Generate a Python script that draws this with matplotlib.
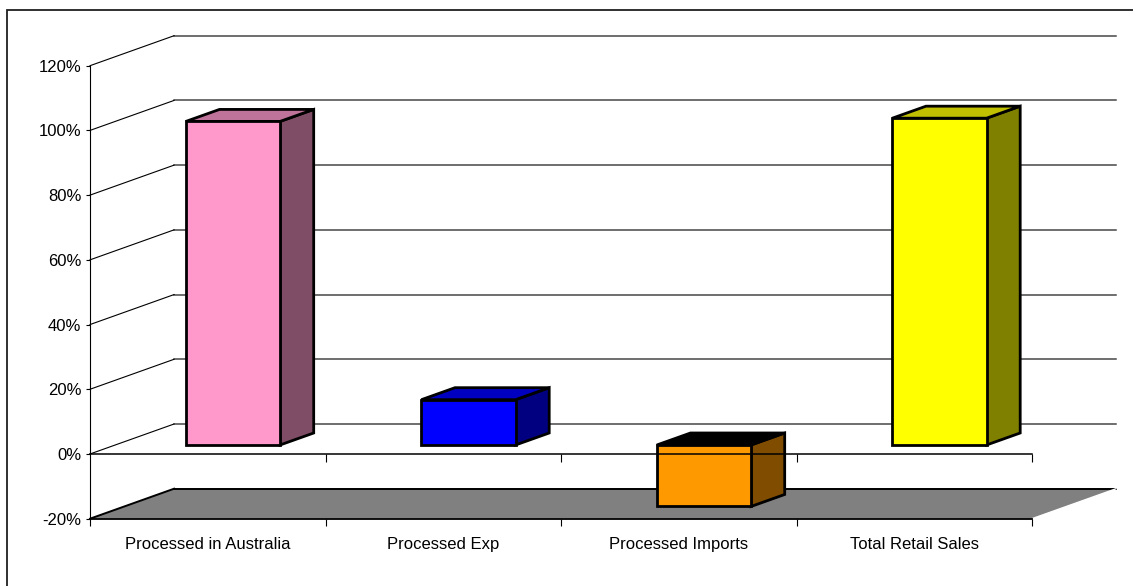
import matplotlib
matplotlib.use("Agg")
import matplotlib.pyplot as plt
from matplotlib import font_manager
from matplotlib.patches import Polygon, Rectangle
from matplotlib.ticker import FixedLocator, PercentFormatter, NullFormatter, FixedFormatter

categories = ["Processed in Australia", "Processed Exp", "Processed Imports", "Total Retail Sales"]
values = [100, 14, -19, 101]
front_colors = ["#FF99CC", "#0000FF", "#FF9900", "#FFFF00"]
top_colors = ["#C0739A", "#0000C0", "#000000", "#C0C000"]
side_colors = ["#804D66", "#000080", "#804D00", "#808000"]
y_ticks = [-20, 0, 20, 40, 60, 80, 100, 120]

# oblique depth vector of the box, in data units (x: category, y: percent)
DX, DY = 0.357, 9.27
BAR_WIDTH = 0.4
BAR_DEPTH = (0.3, 0.7)


def project(x, y, d):
    return (x + d * DX, y + d * DY)


installed = {f.name for f in font_manager.fontManager.ttflist}
if "Liberation Sans Narrow" in installed:
    FONT, FSIZE = "Liberation Sans Narrow", 14.8
else:
    FONT, FSIZE = "Liberation Sans", 12

plt.rcParams["font.family"] = [FONT, "DejaVu Sans"]
plt.rcParams["axes.unicode_minus"] = False

W, H = 1133, 586
fig = plt.figure(figsize=(W / 100, H / 100), dpi=100)
ax = fig.add_axes([90 / W, (H - 518.7) / H, 942 / W, 453 / H])
n = len(categories)
ymin, ymax = y_ticks[0], y_ticks[-1]
ax.set_xlim(0, n)
ax.set_ylim(ymin, ymax)
ax.patch.set_visible(False)

for side in ["top", "right"]:
    ax.spines[side].set_visible(False)
ax.spines["left"].set_linewidth(0.8)
ax.spines["bottom"].set_linewidth(1.3)

# y axis
ax.yaxis.set_major_locator(FixedLocator(y_ticks))
ax.yaxis.set_major_formatter(PercentFormatter(decimals=0))
ax.tick_params(axis="y", direction="out", length=2.9, width=0.8, pad=3.4, labelsize=FSIZE)

# x axis: ticks on the category boundaries, labels in the middle
ax.xaxis.set_major_locator(FixedLocator(range(n + 1)))
ax.xaxis.set_major_formatter(NullFormatter())
ax.xaxis.set_minor_locator(FixedLocator([i + 0.5 for i in range(n)]))
ax.xaxis.set_minor_formatter(FixedFormatter(categories))
ax.tick_params(axis="x", which="major", direction="out", length=5, width=0.8)
ax.tick_params(axis="x", which="minor", length=0, pad=13, labelsize=FSIZE)

# back wall gridlines and side wall diagonals
for y in y_ticks[1:]:
    (xa, ya), (xb, yb) = project(0, y, 1), project(n, y, 1)
    ax.plot([xa, xb], [ya, yb], color="#474747", lw=1.1, clip_on=False, zorder=1)
    (xa, ya), (xb, yb) = project(0, y, 0), project(0, y, 1)
    ax.plot([xa, xb], [ya, yb], color="black", lw=0.8, clip_on=False, zorder=1)

# floor
floor = [project(0, ymin, 0), project(n, ymin, 0), project(n, ymin, 1), project(0, ymin, 1)]
ax.add_patch(Polygon(floor, closed=True, fc="#808080", ec="none", clip_on=False, zorder=2))
ax.plot([floor[3][0], floor[2][0]], [floor[3][1], floor[2][1]], color="black", lw=1.4, clip_on=False, zorder=2)
ax.plot([floor[0][0], floor[3][0]], [floor[0][1], floor[3][1]], color="black", lw=1.4, clip_on=False, zorder=2)
ax.plot([floor[1][0], floor[2][0]], [floor[1][1], floor[2][1]], color="white", lw=1.0, clip_on=False, zorder=2)

# 3D columns
d0, d1 = BAR_DEPTH
for i, v in enumerate(values):
    x0 = i + 0.5 - BAR_WIDTH / 2
    x1 = i + 0.5 + BAR_WIDTH / 2
    lo, hi = min(0, v), max(0, v)
    front = [project(x0, lo, d0), project(x1, lo, d0), project(x1, hi, d0), project(x0, hi, d0)]
    top = [project(x0, hi, d0), project(x1, hi, d0), project(x1, hi, d1), project(x0, hi, d1)]
    side = [project(x1, lo, d0), project(x1, lo, d1), project(x1, hi, d1), project(x1, hi, d0)]
    for pts, fc in [(side, side_colors[i]), (top, top_colors[i]), (front, front_colors[i])]:
        ax.add_patch(Polygon(pts, closed=True, fc=fc, ec="black", lw=2.0,
                             joinstyle="miter", clip_on=False, zorder=3))

# category axis at 0%
ax.plot([0, n], [0, 0], color="black", lw=1.1, clip_on=False, zorder=5)
ax.plot(range(1, n + 1), [0] * n, ls="none", marker=3, ms=6, mew=0.8,
        color="black", clip_on=False, zorder=5)

# chart area border
fig.add_artist(Rectangle((7 / W, -0.05), 1.1, (H - 10) / H + 0.05,
                         transform=fig.transFigure, fill=False, ec="#202020", lw=1.3))

fig.savefig("out.png", dpi=100)
